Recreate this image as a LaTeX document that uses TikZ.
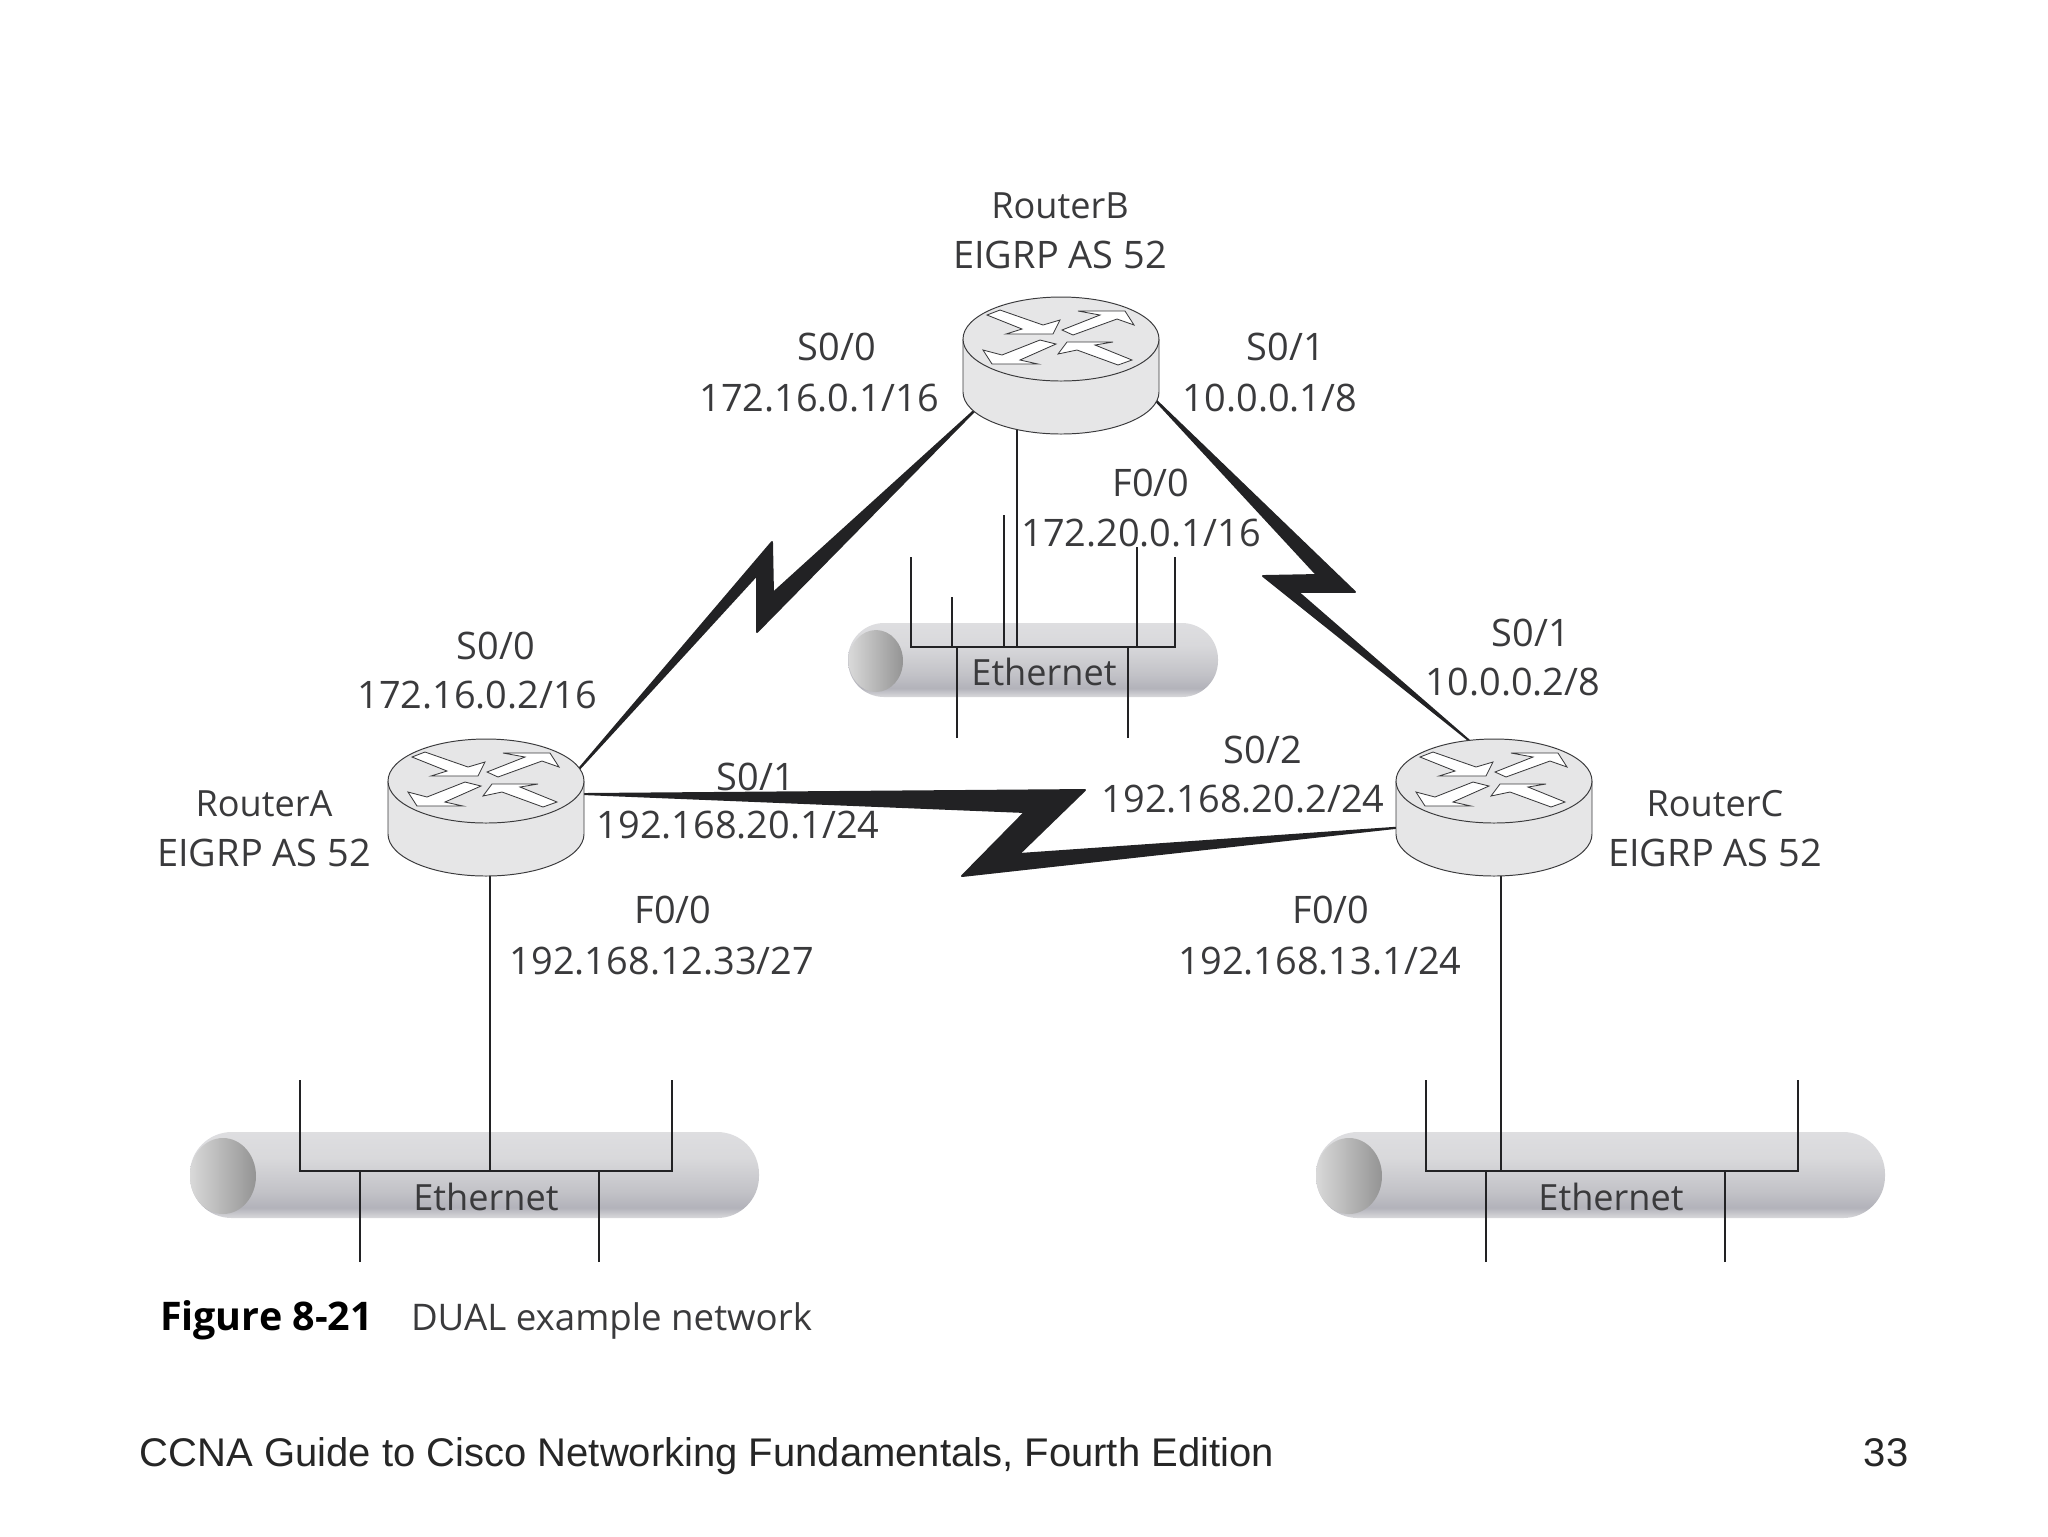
\documentclass[tikz,border=0pt]{standalone}
\usepackage{fontspec}
\setmainfont{Open Sans}
\newfontfamily\footfont{Liberation Sans}
\usetikzlibrary{shapes.geometric}
\pgfdeclareverticalshading{ethergrad}{100bp}{rgb(0bp)=(.85,.85,.86); rgb(25bp)=(.85,.85,.86); rgb(31bp)=(.70,.70,.73); rgb(40bp)=(.76,.76,.78); rgb(60bp)=(.85,.85,.86); rgb(75bp)=(.87,.87,.88); rgb(100bp)=(.87,.87,.88)}
\definecolor{inkgray}{HTML}{3A3A3C}
\definecolor{linkgray}{HTML}{222224}
\definecolor{bodygray}{HTML}{E6E6E7}
\tikzset{
  routernode/.style={ellipse, inner sep=0pt, outer sep=0pt, minimum width=70.56pt, minimum height=49.32pt},
  ethernode/.style={rectangle, inner sep=0pt, outer sep=0pt, rounded corners=15pt, shading=ethergrad},
  capnode/.style={ellipse, inner sep=0pt, outer sep=0pt, left color=black!15, middle color=black!26, right color=black!42},
  lbl/.style={inner sep=0pt, outer sep=0pt, text height=9.6pt, text depth=0pt, font=\fontsize{13.65}{16}\selectfont, text=inkgray},
  namelbl/.style={lbl, font=\fontsize{13}{16}\selectfont},
  foot/.style={inner sep=0pt, outer sep=0pt, text height=10.4pt, text depth=0pt, font=\footfont\fontsize{14.4}{17}\selectfont, text=black!85},
  link/.style={fill=linkgray, draw=linkgray, line width=0.7pt, line join=round},
  wire/.style={draw=linkgray, line width=0.55pt},
  arrowface/.style={fill=white, draw=inkgray, line width=0.3pt},
  pics/routericon/.style={code={
    \path[fill=bodygray, draw=inkgray, line width=0.35pt] (-98,-26.5) -- (-98,26.5)
      arc[start angle=180, end angle=360, x radius=35.28pt, y radius=15.12pt] -- (98,-26.5);
    \path[fill=bodygray, draw=inkgray, line width=0.35pt] (0,-26.5) ellipse [x radius=35.28pt, y radius=15.12pt];
    \begin{scope}[shift={(0,-26.5)}]
      \draw[arrowface] (-74,-24) -- (-61,-29) -- (-18,-14) -- (-1,-19) -- (-8,-5) -- (-55,-5) -- (-39,-10) -- cycle;
      \draw[arrowface] (1,-9) -- (39,-24) -- (17,-28) -- (64,-28) -- (73,-14) -- (56,-20) -- (12,-4) -- cycle;
      \draw[arrowface] (-5,5) -- (-41,21) -- (-23,25) -- (-69,25) -- (-78,11) -- (-59,16) -- (-21,1) -- cycle;
      \draw[arrowface] (-3,15) -- (6,3) -- (52,3) -- (34,6) -- (71,21) -- (57,26) -- (16,11) -- cycle;
    \end{scope}
  }}
}
\begin{document}
\begin{tikzpicture}[x=0.36pt, y=-0.36pt]
  \useasboundingbox (0,0) rectangle (2048,1536);
  % routers
  \node[routernode] (RouterA) at (486,807.5) {};
  \node[routernode] (RouterB) at (1061,365.5) {};
  \node[routernode] (RouterC) at (1494,807.5) {};
  % ethernet segments
  \node[ethernode, minimum width=204.84pt, minimum height=30.96pt] (EthA) at (474.5,1175) {};
  \node[ethernode, minimum width=204.84pt, minimum height=30.96pt] (EthC) at (1600.5,1175) {};
  \node[ethernode, rounded corners=13pt, minimum width=133.2pt, minimum height=26.64pt] (EthB) at (1033,660) {};
  \node[capnode, minimum width=23.76pt, minimum height=27.36pt] (capA) at (223,1176) {};
  \node[capnode, minimum width=23.76pt, minimum height=27.36pt] (capC) at (1349,1176) {};
  \node[capnode, minimum width=19.44pt, minimum height=22.32pt] (capB) at (876,661) {};
  % serial links
  \filldraw[link] (RouterA.20) -- (772,542) -- (773,593) -- (RouterB.206) -- (757,632) -- (757,575) -- cycle;
  \filldraw[link] (RouterB.-18) -- (1355,592) -- (1298,592) -- (RouterC.110.5) -- (1263,576) -- (1317,575) -- cycle;
  \filldraw[link] (RouterA.8) -- (1085,790) -- (1019,854) -- (RouterC.192) -- (962,876) -- (1025,812) -- cycle;
  % stubs of the left segment
  \coordinate (busA) at (490,1171);
  \coordinate (a1) at (300,1080);
  \coordinate (a2) at (672,1080);
  \coordinate (a3) at (360,1262);
  \coordinate (a4) at (599,1262);
  \draw[wire] (a1) |- (busA) -| (a2);
  \draw[wire] (a3) -- (a3 |- busA);
  \draw[wire] (a4) -- (a4 |- busA);
  \draw[wire] (RouterA.center -| busA) -- (busA);
  % stubs of the right segment
  \coordinate (busC) at (1501,1171);
  \coordinate (c1) at (1426,1080);
  \coordinate (c2) at (1798,1080);
  \coordinate (c3) at (1486,1262);
  \coordinate (c4) at (1725,1262);
  \draw[wire] (c1) |- (busC) -| (c2);
  \draw[wire] (c3) -- (c3 |- busC);
  \draw[wire] (c4) -- (c4 |- busC);
  \draw[wire] (RouterC.center -| busC) -- (busC);
  % stubs of the middle segment
  \coordinate (busB) at (1017,647);
  \coordinate (b1) at (911,557);
  \coordinate (b2) at (952,597);
  \coordinate (b3) at (1004,515);
  \coordinate (b4) at (1137,547);
  \coordinate (b5) at (1175,557);
  \coordinate (b6) at (957,738);
  \coordinate (b7) at (1128,738);
  \draw[wire] (b1) |- (busB) -| (b5);
  \draw[wire] (b2) -- (b2 |- busB);
  \draw[wire] (b3) -- (b3 |- busB);
  \draw[wire] (b4) -- (b4 |- busB);
  \draw[wire] (b6) -- (b6 |- busB);
  \draw[wire] (b7) -- (b7 |- busB);
  \draw[wire] (RouterB.center -| busB) -- (busB);
  % router bodies on top of the line ends
  \pic at (RouterA) {routericon};
  \pic at (RouterB) {routericon};
  \pic at (RouterC) {routericon};
  % labels
  \node[namelbl] (nameB) at (1060,205) {RouterB};
  \node[lbl] (asB) at (1060,255) {EIGRP AS 52};
  \node[lbl] (ifBa) at (837,347) {S0/0};
  \node[lbl] (ipBa) at (819,398) {172.16.0.1/16};
  \node[lbl] (ifBc) at (1286,347) {S0/1};
  \node[lbl] (ipBc) at (1270,398) {10.0.0.1/8};
  \node[lbl] (ifBe) at (1151,483) {F0/0};
  \node[lbl] (ipBe) at (1141,533) {172.20.0.1/16};
  \node[lbl] (ifAb) at (496,646) {S0/0};
  \node[lbl] (ipAb) at (477,695) {172.16.0.2/16};
  \node[lbl] (ifCb) at (1531,633) {S0/1};
  \node[lbl] (ipCb) at (1513,682) {10.0.0.2/8};
  \node[lbl] (ifAc) at (756,777) {S0/1};
  \node[lbl] (ipAc) at (738,825) {192.168.20.1/24};
  \node[lbl] (ifCa) at (1263,750) {S0/2};
  \node[lbl] (ipCa) at (1243,799) {192.168.20.2/24};
  \node[namelbl] (nameA) at (264,803) {RouterA};
  \node[lbl] (asA) at (264,853) {EIGRP AS 52};
  \node[namelbl] (nameC) at (1715,803) {RouterC};
  \node[lbl] (asC) at (1715,853) {EIGRP AS 52};
  \node[lbl] (ifAe) at (673,910) {F0/0};
  \node[lbl] (ipAe) at (662,961) {192.168.12.33/27};
  \node[lbl] (ifCe) at (1331,910) {F0/0};
  \node[lbl] (ipCe) at (1320,961) {192.168.13.1/24};
  \node[namelbl] (txtA) at (486,1197) {Ethernet};
  \node[namelbl] (txtC) at (1611,1197) {Ethernet};
  \node[namelbl] (txtB) at (1044,672) {Ethernet};
  % caption and footer
  \node[lbl, anchor=west, text=black, font=\fontsize{14.2}{16}\selectfont\bfseries] (figno) at (160,1317) {Figure 8-21};
  \node[lbl, anchor=west, font=\fontsize{13.2}{16}\selectfont] (figtxt) at (411,1317) {DUAL example network};
  \node[foot, anchor=west] (book) at (140,1452) {CCNA Guide to Cisco Networking Fundamentals, Fourth Edition};
  \node[foot] (page) at (1886,1452) {33};
\end{tikzpicture}
\end{document}
